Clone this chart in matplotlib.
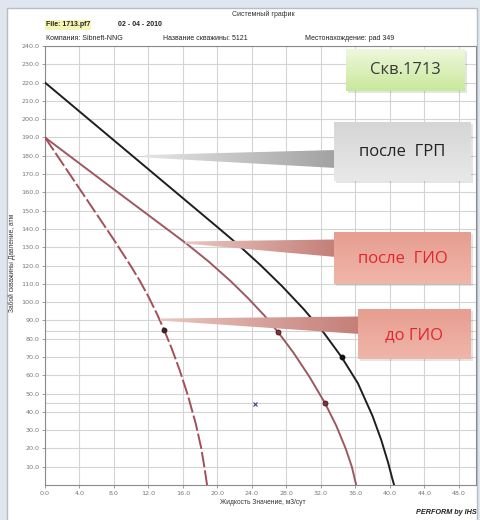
import numpy as np
import matplotlib
matplotlib.use("Agg")
import matplotlib.pyplot as plt
from matplotlib.patches import Rectangle, Polygon

# ---- data -------------------------------------------------------------
# Кривая притока после ГРП (чёрная)
q_grp = [0.0, 10.0, 20.0, 22.3, 25.0, 27.5, 30.0, 32.3, 34.4, 36.3, 38.0,
         39.0, 39.8, 40.3, 40.5]
p_grp = [220.0, 180.5, 141.0, 131.8, 120.2, 108.7, 96.2, 83.5, 70.0, 55.6, 37.7,
         24.7, 12.3, 3.3, 0.0]

# Кривая притока после ГИО (сплошная красная)
q_after = [0.0, 8.0, 16.4, 19.0, 21.5, 23.5, 25.4, 27.05, 28.8, 30.7, 32.5,
           33.8, 34.9, 35.6, 36.1]
p_after = [190.0, 161.6, 132.0, 122.1, 111.6, 102.4, 92.9, 83.5, 72.5, 59.0, 44.6,
           32.3, 19.7, 9.9, 0.0]

# Кривая притока до ГИО (пунктир)
q_before = [0.0, 4.0, 8.0, 10.0, 11.0, 12.0, 13.0, 13.8, 14.7, 15.6, 16.6, 17.5,
            18.1, 18.5, 18.8]
p_before = [190.0, 162.0, 134.0, 119.4, 111.6, 103.0, 93.4, 85.0, 74.6, 63.1, 48.6,
            33.3, 20.7, 9.5, 0.0]

# Замеры (точки на кривых)
test_grp_q, test_grp_p = [34.4], [70.0]
test_after_q, test_after_p = [27.05, 32.5], [83.5, 44.6]
test_before_q, test_before_p = [13.8], [85.0]
op_q, op_p = [24.4], [44.2]
test_levels = [84.0, 44.6]

x_ticks = np.arange(0, 49, 4)
y_ticks = np.arange(10, 241, 10)

W, H = 481, 520
fig = plt.figure(figsize=(W / 100, H / 100), dpi=100, facecolor="#dfe6f0")

# white sheet
bg = fig.add_axes([0, 0, 1, 1], zorder=0)
bg.set_xlim(0, W); bg.set_ylim(H, 0); bg.axis("off")
bg.add_patch(Rectangle((7.5, 7.5), 470, 520, facecolor="white",
                       edgecolor="#b8bcc4", lw=1.0))

# ---- main axes ----------------------------------------------------------
L, R, T, B = 45, 476, 46, 485
ax = fig.add_axes([L / W, 1 - B / H, (R - L) / W, (B - T) / H], zorder=2)
ax.set_facecolor("white")
ax.set_xlim(0, 50)
ax.set_ylim(0, 240)
ax.set_xticks(x_ticks)
ax.set_yticks(y_ticks)
ax.set_xticklabels([f"{v:.1f}" for v in x_ticks])
ax.set_yticklabels([f"{v:.1f}" for v in y_ticks])
ax.tick_params(labelsize=4.6, colors="#777777", length=2, width=0.5, pad=2)
ax.grid(True, color="#d4d4d4", lw=0.8)
for lv in test_levels:
    ax.axhline(lv, color="#d4d4d4", lw=0.8, zorder=0.5)
for s in ax.spines.values():
    s.set_color("#8a8a8a"); s.set_linewidth(0.8)
ax.set_axisbelow(True)

ax.plot(q_grp, p_grp, color="#1e1e1e", lw=1.4, zorder=3, solid_joinstyle="round")
ax.plot(q_after, p_after, color="#9c5961", lw=1.4, zorder=3, solid_joinstyle="round")
ax.plot(q_before, p_before, color="#a34f5a", lw=1.4, dashes=(8, 1.6), zorder=3)

ax.plot(test_grp_q, test_grp_p, "o", ms=3.2, color="#111111", zorder=4)
ax.plot(test_after_q, test_after_p, "o", ms=3.6, color="#8a2d3a",
        mec="#3a1a1e", mew=0.6, zorder=4)
ax.plot(test_before_q, test_before_p, "o", ms=3.2, color="#3a2024", zorder=4)
ax.plot(op_q, op_p, "x", ms=3.5, mew=0.8, color="#40409a", zorder=4)

# ---- header texts -------------------------------------------------------
fs = "Liberation Sans"
fig.text(263 / W, 1 - 14 / H, "Системный график", fontsize=5, color="#333333",
         ha="center", va="center", family=fs)
fig.text(46 / W, 1 - 25 / H, "File: 1713.pf7", fontsize=5, color="#222222",
         ha="left", va="center", family=fs, weight="bold",
         bbox=dict(boxstyle="square,pad=0.15", fc="#f6f6b4", ec="none"))
fig.text(118 / W, 1 - 25 / H, "02 - 04 - 2010", fontsize=5, color="#222222",
         ha="left", va="center", family=fs, weight="bold")
fig.text(46 / W, 1 - 38 / H, "Компания: Sibneft-NNG", fontsize=5,
         color="#222222", ha="left", va="center", family=fs)
fig.text(163 / W, 1 - 38 / H, "Название скважины: 5121", fontsize=5,
         color="#222222", ha="left", va="center", family=fs)
fig.text(305 / W, 1 - 38 / H, "Местонахождение: pad 349", fontsize=5,
         color="#222222", ha="left", va="center", family=fs)
fig.text(12 / W, 1 - 263 / H, "Забой скважины Давление, атм", fontsize=4.8,
         color="#333333", ha="center", va="center", rotation=90, family=fs)
fig.text(263 / W, 1 - 503 / H, "Жидкость Значение, м3/сут", fontsize=4.8,
         color="#333333", ha="center", va="center", family=fs)
fig.text(477 / W, 1 - 512 / H, "PERFORM by IHS", fontsize=5.2, color="#222222",
         ha="right", va="center", family=fs, weight="bold", style="italic")

# ---- callouts (overlay in pixel coordinates) ---------------------------
ov = fig.add_axes([0, 0, 1, 1], zorder=5)
ov.set_xlim(0, W); ov.set_ylim(H, 0); ov.axis("off")
ov.patch.set_alpha(0)


def to_rgb(c):
    return np.array(matplotlib.colors.to_rgb(c))


def grad_image(c0, c1, vertical=True, n=64):
    t = np.linspace(0, 1, n)
    cols = to_rgb(c0)[None, :] * (1 - t[:, None]) + to_rgb(c1)[None, :] * t[:, None]
    if vertical:
        return cols[:, None, :]
    return cols[None, :, :]


def grad_box(x0, y0, x1, y1, c0, c1, z):
    ov.add_patch(Rectangle((x0 + 2, y0 + 2), x1 - x0, y1 - y0, facecolor="#000000",
                           alpha=0.10, lw=0, zorder=z - 0.5))
    ov.imshow(grad_image(c0, c1, True), extent=(x0, x1, y1, y0), aspect="auto",
              interpolation="bilinear", zorder=z)


def wedge(pts, c0, c1, z):
    xs = [p[0] for p in pts]; ys = [p[1] for p in pts]
    poly = Polygon(pts, closed=True, facecolor="none", edgecolor="none")
    ov.add_patch(poly)
    im = ov.imshow(grad_image(c0, c1, False), extent=(min(xs), max(xs), max(ys), min(ys)),
                   aspect="auto", interpolation="bilinear", zorder=z)
    im.set_clip_path(poly)


cf = ["Open Sans", "DejaVu Sans"]

# Скв.1713
grad_box(346, 49, 465, 91, "#eef8dc", "#c8e89a", 6)
ov.text(405.5, 70, "Скв.1713", fontsize=12, color="#3a3a3a", ha="center",
        va="center", family=cf, zorder=7)

# после ГРП
wedge([(145, 155), (145, 157.5), (336, 168), (336, 150)], "#e4e4e4", "#a2a2a2", 5.5)
grad_box(334, 122, 471, 181, "#d6d6d6", "#e8e8e8", 6)
ov.text(402.5, 152, "после  ГРП", fontsize=12, color="#222222", ha="center",
        va="center", family=cf, zorder=7)

# после ГИО
wedge([(185, 241.5), (185, 243.5), (336, 257), (336, 239.5)], "#e9c6c0", "#c47f78", 5.5)
grad_box(334, 232, 471, 284, "#e69e90", "#f0b6aa", 6)
ov.text(402.5, 259, "после  ГИО", fontsize=12, color="#e3262b", ha="center",
        va="center", family=cf, zorder=7)

# до ГИО
wedge([(160, 318.5), (160, 320.5), (360, 334), (360, 316.5)], "#e9c6c0", "#c47f78", 5.5)
grad_box(358, 309, 471, 359, "#e69e90", "#f0b6aa", 6)
ov.text(414.5, 335, "до ГИО", fontsize=12, color="#e3262b", ha="center",
        va="center", family=cf, zorder=7)

ov.set_xlim(0, W); ov.set_ylim(H, 0)

fig.savefig("out.png", dpi=100, facecolor=fig.get_facecolor())
